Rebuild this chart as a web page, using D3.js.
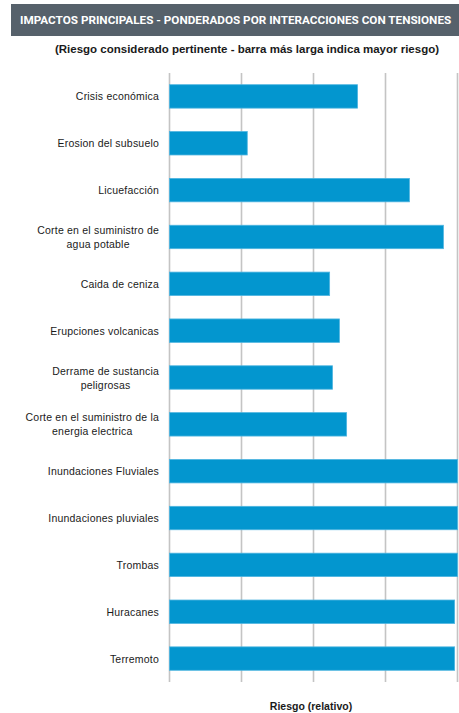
<!DOCTYPE html>
<html>
<head>
<meta charset="utf-8">
<script src="https://cdn.jsdelivr.net/npm/d3@7"></script>
<style>
  html, body { margin: 0; padding: 0; background: #fff; }
  svg { display: block; }
</style>
</head>
<body>
<svg id="chart" width="459" height="713"></svg>
<script>
// Impact categories (top to bottom) and their relative risk
const categories = [
  ["Crisis económica"],
  ["Erosion del subsuelo"],
  ["Licuefacción"],
  ["Corte en el suministro de", "agua potable"],
  ["Caida de ceniza"],
  ["Erupciones volcanicas"],
  ["Derrame de sustancia", "peligrosas"],
  ["Corte en el suministro de la", "energia electrica"],
  ["Inundaciones Fluviales"],
  ["Inundaciones pluviales"],
  ["Trombas"],
  ["Huracanes"],
  ["Terremoto"]
];
const riskValues = [0.653, 0.27, 0.833, 0.951, 0.556, 0.59, 0.566, 0.615, 1.0, 1.0, 1.0, 0.99, 0.99];
const gridTicks = [0, 0.25, 0.5, 0.75, 1.0];

const titleText = "IMPACTOS PRINCIPALES - PONDERADOS POR INTERACCIONES CON TENSIONES";
const subtitleText = "(Riesgo considerado pertinente - barra más larga indica mayor riesgo)";
const axisTitle = "Riesgo (relativo)";

const svg = d3.select("#chart");
const font = "'Liberation Sans', Arial, sans-serif";

// Header band
svg.append("rect")
  .attr("x", 11).attr("y", 4).attr("width", 448).attr("height", 32)
  .attr("fill", "#56616b");
const title = svg.append("text")
  .attr("x", 20).attr("y", 24)
  .attr("fill", "#ffffff")
  .attr("font-family", "Roboto, 'Liberation Sans', sans-serif")
  .attr("font-weight", "bold")
  .attr("font-size", 12.2)
  .text(titleText);
// shrink the heading so it fits inside the band
const maxTitleW = 459 - 20 - 8;
const tw = title.node().getComputedTextLength();
if (tw > maxTitleW) title.attr("font-size", 12.2 * maxTitleW / tw);

svg.append("text")
  .attr("x", 247).attr("y", 53)
  .attr("text-anchor", "middle")
  .attr("fill", "#1a1a1a")
  .attr("font-family", font)
  .attr("font-weight", "bold")
  .attr("font-size", 11.5)
  .text(subtitleText);

const x = d3.scaleLinear().domain([0, 1]).range([169, 457]);
const y = d3.scaleBand()
  .domain(d3.range(categories.length))
  .range([73, 682])
  .paddingInner(0.5)
  .paddingOuter(0.25);

// Vertical gridlines from the x axis ticks
const gridAxis = d3.axisBottom(x)
  .tickValues(gridTicks)
  .tickSize(-(682 - 73))
  .tickFormat("");
const grid = svg.append("g")
  .attr("transform", "translate(0,682)")
  .call(gridAxis);
grid.select(".domain").remove();
grid.selectAll(".tick line")
  .attr("stroke", "#c4c4c4")
  .attr("stroke-width", 1.6);

// Bars
svg.append("g")
  .selectAll("rect")
  .data(riskValues)
  .join("rect")
  .attr("x", x(0) + 0.5)
  .attr("y", (d, i) => y(i))
  .attr("width", d => x(d) - x(0))
  .attr("height", y.bandwidth())
  .attr("fill", "#0396cf")
  .attr("stroke", "#4fb5e0")
  .attr("stroke-width", 0.8);

// Category labels
const labels = svg.append("g")
  .selectAll("text")
  .data(categories)
  .join("text")
  .attr("font-family", font)
  .attr("font-size", 10.5)
  .attr("fill", "#1a1a1a")
  .attr("letter-spacing", 0.2);

labels.each(function(lines, i) {
  const t = d3.select(this);
  const cy = y(i) + y.bandwidth() / 2;
  if (lines.length === 1) {
    t.append("tspan")
      .attr("x", 159).attr("y", cy + 4)
      .attr("text-anchor", "end")
      .text(lines[0]);
  } else {
    // two-line labels: centred lines, block right-aligned to the axis
    const tmp = t.append("tspan").text(lines[0]);
    const w = this.getComputedTextLength();
    tmp.remove();
    const center = 159 - w / 2;
    lines.forEach((ln, k) => {
      t.append("tspan")
        .attr("x", center)
        .attr("y", cy - 3 + k * 14)
        .attr("text-anchor", "middle")
        .text(ln);
    });
  }
});

svg.append("text")
  .attr("x", 311).attr("y", 710)
  .attr("text-anchor", "middle")
  .attr("fill", "#1a1a1a")
  .attr("font-family", font)
  .attr("font-weight", "bold")
  .attr("font-size", 10.5)
  .text(axisTitle);
</script>
</body>
</html>
